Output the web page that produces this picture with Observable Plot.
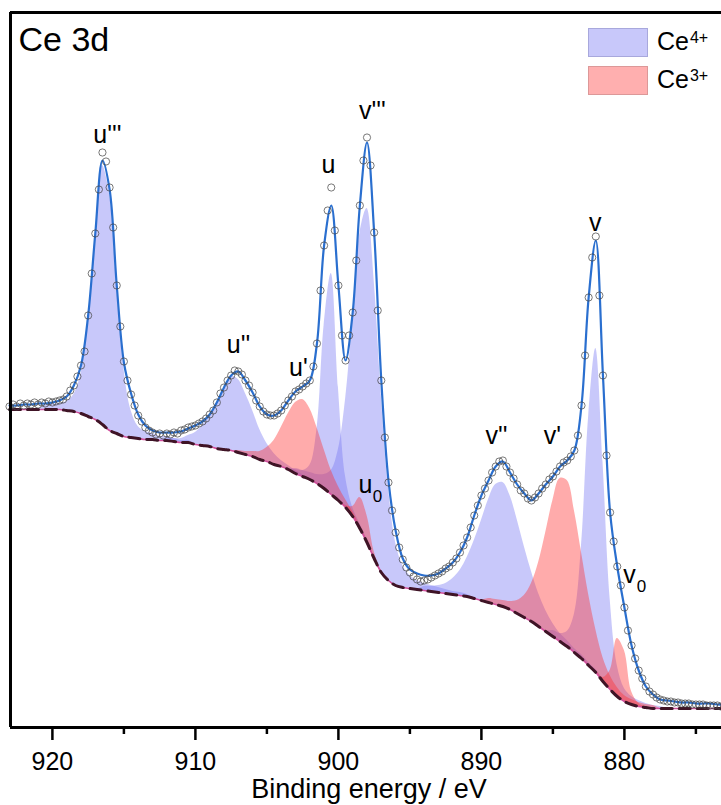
<!DOCTYPE html>
<html>
<head>
<meta charset="utf-8">
<script src="https://cdn.jsdelivr.net/npm/d3@7"></script>
<script src="https://cdn.jsdelivr.net/npm/@observablehq/plot@0.6"></script>
<style>
  html, body { margin: 0; padding: 0; background: #fff; overflow: hidden; }
  #wrap { position: relative; width: 721px; height: 805px; font-family: "Liberation Sans", Arial, sans-serif; }
  #legend { position: absolute; left: 588px; top: 28px; }
  .row { display: flex; align-items: center; height: 29px; }
  .row + .row { margin-top: 9px; }
  .sw { width: 58px; height: 27px; border: 1px solid; }
  .lab { margin-left: 9px; font-size: 25px; line-height: 29px; color: #000; }
  .lab sup { font-size: 16px; position: relative; top: -7px; vertical-align: baseline; margin-left: 1px; }
</style>
</head>
<body>
<div id="wrap">
  <div id="chart"></div>
  <div id="legend">
    <div class="row"><span class="sw" style="background:#c8c8fa;border-color:#a8a8dc"></span><span class="lab">Ce<sup>4+</sup></span></div>
    <div class="row"><span class="sw" style="background:#ffafaf;border-color:#dc9898"></span><span class="lab">Ce<sup>3+</sup></span></div>
  </div>
</div>
<script>
// ---- measured spectrum (binding energy grid 923 -> 873 eV, step 0.25 eV), intensity a.u.
const measuredStartEV = 923;
const measuredStepEV = 0.25;
const measured = [
  321,323,321,324, 322,324,323,325, 323,325,324,326, 325,326,327,328,
  331,337,342,351, 362,376,412,454, 494,538,575,566, 540,500,442,401,
  366,347,333,322, 312,306,300,297, 295,293,294,292, 294,293,295,294,
  297,298,300,301, 302,304,306,309, 313,317,325,334, 340,347,352,357,
  356,353,347,342, 335,327,321,316, 313,312,312,314, 317,322,327,331,
  336,338,341,344, 347,361,384,437, 482,517,540,497, 442,392,367,392,
  415,467,522,567, 590,562,495,417, 347,290,245,217, 195,180,168,160,
  155,151,148,146, 147,148,150,152, 154,156,159,161, 165,169,175,182,
  190,200,212,222, 232,239,247,255, 261,266,267,261, 255,249,243,237,
  234,229,227,230, 234,239,243,248, 251,256,261,265, 267,271,277,292,
  322,372,430,470, 491,432,352,272, 215,186,161,142, 120,97,82,69,
  57,49,41,36, 33,30,28,27, 26,26,25,25, 24,24,24,23,
  23,23,23,22, 22,22,22,21, 21
];

// ---- fit envelope and Shirley background (grid 923 -> 873 eV, step 0.5 eV)
const gridStartEV = 923;
const gridStepEV = 0.5;
const fitEnvelope = [
  322,322,323,323,324,324,325,327,331,342,
  362,412,494,567,538,442,365,334,313,302,
  297,295,295,295,296,299,302,306,313,325,
  340,352,356,347,335,321,313,312,317,327,
  336,341,347,384,482,522,442,367,415,522,
  585,495,347,247,197,169,158,154,152,152,
  154,159,165,175,190,212,232,247,261,266,
  255,243,234,227,234,243,251,261,267,277,
  322,430,487,352,215,161,120,82,57,41,
  33,28,27,26,25,25,24,24,24,23,
  23
];
const shirleyBackground = [
  318,318,318,318,318,318,318,318,317,316,
  314,311,308,303,297,294,291,290,289,288,
  288,287,287,286,285,285,283,282,281,279,
  278,277,275,273,271,268,266,263,261,258,
  254,251,248,244,239,233,227,220,211,199,
  185,169,155,147,142,140,139,138,137,136,
  135,134,133,132,131,129,127,125,123,121,
  118,114,110,106,101,96,91,86,81,75,
  69,62,55,46,38,31,26,23,21,20,
  19,19,19,19,19,19,19,19,19,19,
  19
];

// ---- fitted components (intensity above background, step 0.5 eV from the given start energy)
const ce4Names  = ["u'''", "u''", "u", "v'''", "v''", "v"];
const ce4Starts = [921, 912.5, 903.5, 903.5, 894.5, 885.5];
const compU3 = [0,4,5,6,9,17,40,95,184,259,236,147,68,27,12,8,6,4,4,3,2,2,0];
const compU2 = [0,2,3,4,7,12,20,31,46,61,74,73,61,46,30,18,11,6,4,3,2,0];
const compU  = [0,4,6,14,54,163,221,113,31,9,5,3,2,0];
const compV3 = [0,5,6,7,9,14,24,51,108,198,295,334,278,177,93,43,22,13,9,7,6,5,4,3,3,2,0];
const compV2 = [0,4,5,7,10,16,25,39,58,80,103,120,124,114,94,71,50,33,21,13,8,6,4,4,3,3,2,0];
const compV  = [0,6,8,15,38,113,249,324,220,91,31,13,8,6,4,3,2,0];

const ce3Names  = ["u'", "u0", "v'", "v0"];
const ce3Starts = [907.5, 900.5, 890, 882.5];
const compU1 = [0,2,3,5,8,14,24,39,56,71,77,71,56,39,24,14,8,5,3,2,0];
const compU0 = [0,1,2,10,31,27,7,2,1,0];
const compV1 = [0,4,5,6,8,13,22,38,64,99,136,163,166,142,106,71,43,24,14,9,6,5,4,3,3,0];
const compV0 = [0,2,4,19,58,51,13,3,1,0];

// ---- peak labels
const peakLabels   = ["u'''", "u''", "u'", "u", "v'''", "u", "v''", "v'", "v", "v"];
const peakLabelEV  = [916.15, 906.99, 902.8, 900.7, 897.62, 898.11, 888.95, 885.03, 882.03, 879.65];
const peakLabelInt = [585, 375, 352, 555, 609, 235, 284, 284, 497, 145];
const subLabels    = ["0", "0"];
const subLabelEV   = [898.11, 879.65];
const subLabelInt  = [235, 145];

// ---- axis ticks
const majorTicks = [920, 910, 900, 890, 880];
const minorTicks = [915, 905, 895, 885, 875];

// ---------- build tables
const bgAt = (e) => shirleyBackground[Math.round((gridStartEV - e) / gridStepEV)];
const measuredRows = measured.map((v, i) => ({E: measuredStartEV - i * measuredStepEV, I: v}));
const fitRows = fitEnvelope.map((v, i) => ({E: gridStartEV - i * gridStepEV, I: v}));
const bgRows = shirleyBackground.map((v, i) => ({E: gridStartEV - i * gridStepEV, I: v}));
function compRows(values, start, name) {
  return values.map((v, i) => {
    const E = start - i * gridStepEV;
    const b = bgAt(E);
    return {E, bg: b, top: b + v, name};
  });
}
const ce4Rows = [compU3, compU2, compU, compV3, compV2, compV].map((c, k) => compRows(c, ce4Starts[k], ce4Names[k]));
const ce3Rows = [compU1, compU0, compV1, compV0].map((c, k) => compRows(c, ce3Starts[k], ce3Names[k]));
const labelRows = peakLabels.map((t, i) => ({t, E: peakLabelEV[i], I: peakLabelInt[i]}));
const subRows = subLabels.map((t, i) => ({t, E: subLabelEV[i], I: subLabelInt[i]}));

const xLeft = 922.93, xRight = 873.21, yTop = 715;
const font = "Liberation Sans, Arial, Helvetica, sans-serif";

const marks = [];
for (const rows of ce4Rows) {
  marks.push(Plot.areaY(rows, {x: "E", y1: "bg", y2: "top", fill: "rgb(118,118,242)", fillOpacity: 0.4, curve: "catmull-rom"}));
}
for (const rows of ce3Rows) {
  marks.push(Plot.areaY(rows, {x: "E", y1: "bg", y2: "top", fill: "rgb(255,45,45)", fillOpacity: 0.4, curve: "catmull-rom"}));
}
marks.push(
  Plot.line(bgRows, {x: "E", y: "I", stroke: "#d04f9c", strokeWidth: 1.6, curve: "catmull-rom"}),
  Plot.line(bgRows, {x: "E", y: "I", stroke: "#3f1426", strokeWidth: 3, strokeDasharray: "11,7", curve: "catmull-rom"}),
  Plot.line(fitRows, {x: "E", y: "I", stroke: "#2a6fcf", strokeWidth: 2.2, curve: "catmull-rom"}),
  Plot.dot(measuredRows, {x: "E", y: "I", r: 3.6, stroke: "#444", strokeOpacity: 0.8, strokeWidth: 0.9, fill: "none"}),
  Plot.text(labelRows, {x: "E", y: "I", text: "t", fontSize: 25, lineAnchor: "bottom", textAnchor: "middle", fill: "black"}),
  Plot.text(subRows, {x: "E", y: "I", text: "t", fontSize: 17, lineAnchor: "bottom", textAnchor: "middle", dx: 12, dy: 9, fill: "black"}),
  Plot.text(["Ce 3d"], {frameAnchor: "top-left", textAnchor: "start", lineAnchor: "bottom", dx: 8, dy: 38, fontSize: 34, fill: "black"}),
  Plot.ruleX([xLeft], {stroke: "black", strokeWidth: 3}),
  Plot.ruleY([yTop], {stroke: "black", strokeWidth: 3}),
  Plot.ruleY([0], {stroke: "black", strokeWidth: 3}),
  Plot.axisX(majorTicks, {anchor: "bottom", tickSize: 13, tickPadding: 12, fontSize: 25, strokeWidth: 2.5, tickFormat: d => String(d), label: null}),
  Plot.axisX(minorTicks, {anchor: "bottom", tickSize: 7, strokeWidth: 2.5, tickFormat: () => "", label: null}),
  Plot.text(["Binding energy / eV"], {frameAnchor: "bottom", lineAnchor: "bottom", dy: 70, dx: 3, fontSize: 27, fill: "black"})
);

const chart = Plot.plot({
  width: 721,
  height: 805,
  marginLeft: 10,
  marginRight: 0,
  marginTop: 12,
  marginBottom: 78,
  x: {domain: [xLeft, xRight]},
  y: {domain: [0, yTop], axis: null},
  style: {fontFamily: font, background: "white", color: "black", overflow: "visible"},
  marks
});
document.getElementById("chart").appendChild(chart);
</script>
</body>
</html>
